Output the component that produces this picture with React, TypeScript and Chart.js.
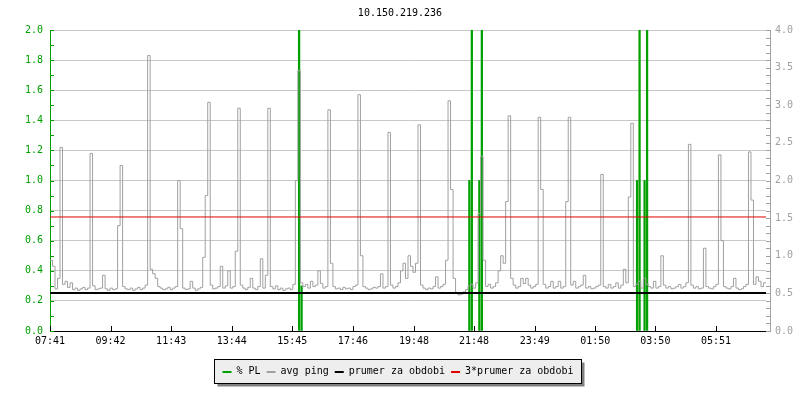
import { useEffect, useRef } from "react";
import { Chart, registerables } from "chart.js";

Chart.register(...registerables);

// ---------- data ----------
const TITLE = "10.150.219.236";
const START_TIME = "07:41";
const SAMPLE_MINUTES = 5;
const tickLabels = ["07:41", "09:42", "11:43", "13:44", "15:45", "17:46", "19:48", "21:48", "23:49", "01:50", "03:50", "05:51"];
const seriesLabels = ["% PL", "avg ping", "prumer za obdobi", "3*prumer za obdobi"];

// avg ping (ms, right axis), one value per 5-minute sample
const pingMs = [
  0.94, 0.86, 0.56, 0.70, 2.44, 0.62, 0.66, 0.58, 0.64, 0.55,
  0.57, 0.54, 0.56, 0.58, 0.55, 0.57, 2.36, 0.60, 0.55, 0.56,
  0.57, 0.74, 0.56, 0.54, 0.57, 0.55, 0.56, 1.40, 2.20, 0.59,
  0.56, 0.55, 0.57, 0.54, 0.56, 0.58, 0.55, 0.57, 0.61, 3.66,
  0.82, 0.76, 0.70, 0.59, 0.57, 0.55, 0.56, 0.58, 0.55, 0.57,
  0.59, 2.00, 1.36, 0.57, 0.55, 0.56, 0.66, 0.57, 0.54, 0.56,
  0.58, 0.98, 1.80, 3.04, 0.61, 0.56, 0.57, 0.59, 0.86, 0.57,
  0.60, 0.80, 0.57, 0.59, 1.06, 2.96, 0.61, 0.57, 0.55, 0.58,
  0.70, 0.57, 0.55, 0.59, 0.96, 0.57, 0.74, 2.96, 0.59, 0.56,
  0.60, 0.55, 0.57, 0.54, 0.56, 0.57, 0.55, 0.62, 2.00, 3.46,
  0.64, 0.59, 0.62, 0.57, 0.66, 0.59, 0.61, 0.80, 0.63, 0.57,
  0.59, 2.94, 0.90, 0.59, 0.56, 0.57, 0.55, 0.58, 0.56, 0.57,
  0.55, 0.59, 0.61, 3.14, 1.00, 0.59, 0.57, 0.55, 0.56, 0.58,
  0.57, 0.59, 0.76, 0.57, 0.59, 2.64, 0.61, 0.57, 0.59, 0.64,
  0.80, 0.90, 0.70, 1.00, 0.86, 0.78, 0.90, 2.74, 0.61, 0.57,
  0.55, 0.57, 0.56, 0.59, 0.72, 0.57, 0.59, 0.62, 0.94, 3.06,
  1.88, 0.70, 0.50, 0.48, 0.49, 0.52, 0.55, 0.60, 0.62, 0.57,
  0.64, 1.56, 2.32, 0.94, 0.59, 0.62, 0.57, 0.59, 0.64, 0.80,
  1.00, 0.90, 1.72, 2.86, 0.70, 0.61, 0.57, 0.59, 0.70, 0.63,
  0.70, 0.61, 0.57, 0.59, 0.62, 2.84, 1.88, 0.62, 0.57, 0.59,
  0.66, 0.57, 0.59, 0.66, 0.57, 0.59, 1.72, 2.84, 0.61, 0.66,
  0.57, 0.59, 0.61, 0.74, 0.57, 0.59, 0.56, 0.57, 0.59, 0.61,
  2.08, 0.59, 0.57, 0.62, 0.57, 0.59, 0.64, 0.57, 0.61, 0.82,
  0.64, 1.78, 2.76, 0.59, 0.62, 0.66, 0.57, 0.70, 0.62, 0.59,
  0.57, 0.66, 0.57, 0.59, 1.00, 0.61, 0.57, 0.59, 0.56, 0.57,
  0.59, 0.62, 0.57, 0.59, 0.64, 2.48, 0.61, 0.57, 0.59, 0.56,
  0.57, 1.10, 0.59, 0.57, 0.56, 0.59, 0.62, 2.34, 1.20, 0.59,
  0.57, 0.56, 0.59, 0.70, 0.57, 0.55, 0.56, 0.59, 0.62, 2.38,
  1.74, 0.62, 0.72, 0.66, 0.59, 0.64,
];

// packet loss (%, left axis) — non-zero samples only
const plSampleIndex = [99, 100, 167, 168, 171, 172, 234, 235, 237, 238];
const plPercent = [100, 0.3, 1.0, 100, 1.0, 100, 1.0, 100, 1.0, 100];

const avgPing = 0.505;
const tripleAvgPing = 1.515;

// ---------- style ----------
const GREEN = "#00a000";
const GRAY = "#a0a0a0";
const GRID = "#c8c8c8";
const RED = "#e00000";
const FONT = "'DejaVu Sans Mono', monospace";

const toMin = (t: string) => {
  const [h, m] = t.split(":").map(Number);
  return h * 60 + m;
};

const decorPlugin = {
  id: "decor",
  afterDraw(chart: any) {
    const ctx = chart.ctx as CanvasRenderingContext2D;
    const { left, right, top, bottom } = chart.chartArea;
    const y = chart.scales.y;
    const y2 = chart.scales.y2;
    const x = chart.scales.x;
    ctx.save();
    ctx.lineWidth = 1;

    // left minor ticks
    ctx.strokeStyle = GREEN;
    for (let i = 0; i <= 20; i++) {
      const py = Math.round(y.getPixelForValue(i * 0.1)) + 0.5;
      ctx.beginPath();
      ctx.moveTo(left, py);
      ctx.lineTo(left + 4, py);
      ctx.stroke();
    }

    // right axis line + ticks
    const rx = Math.round(right) + 4.5;
    ctx.strokeStyle = GRAY;
    ctx.beginPath();
    ctx.moveTo(rx, top);
    ctx.lineTo(rx, bottom + 1);
    ctx.stroke();
    for (let i = 0; i <= 40; i++) {
      const py = Math.round(y2.getPixelForValue(i * 0.1)) + 0.5;
      ctx.beginPath();
      ctx.moveTo(right, py);
      ctx.lineTo(rx, py);
      ctx.stroke();
    }

    // x ticks pointing inward
    ctx.strokeStyle = "#000";
    x.ticks.forEach((t: any) => {
      const px = Math.round(x.getPixelForValue(t.value)) + 0.5;
      ctx.beginPath();
      ctx.moveTo(px, bottom);
      ctx.lineTo(px, bottom - 5);
      ctx.stroke();
    });

    // legend
    ctx.font = `10px ${FONT}`;
    ctx.textBaseline = "middle";
    const ds = chart.data.datasets;
    const sample = 9, gapText = 5, gapItem = 6;
    let content = 0;
    ds.forEach((d: any, i: number) => {
      content += sample + gapText + ctx.measureText(d.label).width + (i < ds.length - 1 ? gapItem : 0);
    });
    const boxW = Math.round(content + 16);
    const boxH = 24;
    const bx = Math.round((chart.width - boxW) / 2) - 3 + 0.5;
    const by = 359.5;
    ctx.fillStyle = "#808080";
    ctx.fillRect(bx + 3, by + 3, boxW, boxH);
    ctx.fillStyle = "#eeeeee";
    ctx.fillRect(bx, by, boxW, boxH);
    ctx.strokeStyle = "#000";
    ctx.strokeRect(bx, by, boxW, boxH);
    let cx = bx + 8;
    const cy = by + boxH / 2;
    ds.forEach((d: any) => {
      const col = d.type === "bar" ? d.backgroundColor : d.borderColor;
      ctx.fillStyle = col;
      ctx.fillRect(cx, Math.round(cy) - 1, sample, 2);
      cx += sample + gapText;
      ctx.fillStyle = "#000";
      ctx.textAlign = "left";
      ctx.fillText(d.label, cx, cy);
      cx += ctx.measureText(d.label).width + gapItem;
    });
    ctx.restore();
  },
};

export default function App() {
  const ref = useRef<HTMLCanvasElement | null>(null);

  useEffect(() => {
    document.body.style.margin = "0";
    if (!ref.current) return;
    const startMin = toMin(START_TIME);
    const tickMinutes = tickLabels.map((l) => (toMin(l) - startMin + 1440) % 1440);
    const xMax = pingMs.length * SAMPLE_MINUTES;

    const pingPoints = pingMs.map((v, i) => ({ x: i * SAMPLE_MINUTES, y: v }));
    pingPoints.push({ x: xMax, y: pingMs[pingMs.length - 1] });
    const plPoints = plSampleIndex.map((k, i) => ({ x: k * SAMPLE_MINUTES + SAMPLE_MINUTES / 2, y: plPercent[i] }));

    Chart.defaults.font.family = FONT;
    Chart.defaults.font.size = 10;

    const chart = new Chart(ref.current, {
      type: "line",
      data: {
        datasets: [
          {
            type: "bar",
            label: seriesLabels[0],
            data: plPoints,
            yAxisID: "y",
            backgroundColor: GREEN,
            borderWidth: 0,
            barThickness: 1.6,
            grouped: false,
            order: 3,
          } as any,
          {
            type: "line",
            label: seriesLabels[1],
            data: pingPoints,
            yAxisID: "y2",
            borderColor: GRAY,
            backgroundColor: GRAY,
            borderWidth: 1,
            pointRadius: 0,
            stepped: true,
            order: 2,
          },
          {
            type: "line",
            label: seriesLabels[2],
            data: [{ x: 0, y: avgPing }, { x: xMax, y: avgPing }],
            yAxisID: "y2",
            borderColor: "#000000",
            backgroundColor: "#000000",
            borderWidth: 2,
            pointRadius: 0,
            order: 1,
          },
          {
            type: "line",
            label: seriesLabels[3],
            data: [{ x: 0, y: tripleAvgPing }, { x: xMax, y: tripleAvgPing }],
            yAxisID: "y2",
            borderColor: RED,
            backgroundColor: RED,
            borderWidth: 1,
            pointRadius: 0,
            order: 0,
          },
        ],
      },
      options: {
        responsive: false,
        animation: false,
        events: [],
        layout: { padding: 0 },
        plugins: {
          legend: { display: false },
          tooltip: { enabled: false },
          title: {
            display: true,
            text: TITLE,
            color: "#000",
            font: { family: FONT, size: 10, weight: "normal" },
            padding: { top: 7, bottom: 11 },
          },
        },
        scales: {
          x: {
            type: "linear",
            min: 0,
            max: xMax,
            offset: false,
            grid: { display: false, drawTicks: false, offset: false },
            border: { display: true, color: "#000", width: 1 },
            afterBuildTicks: (s: any) => {
              s.ticks = tickMinutes.map((v) => ({ value: v }));
            },
            afterFit: (s: any) => {
              s.height = 69;
            },
            ticks: {
              autoSkip: false,
              maxRotation: 0,
              padding: 4,
              color: "#000",
              font: { family: FONT, size: 10 },
              callback: (_v: any, i: number) => tickLabels[i],
            },
          },
          y: {
            type: "linear",
            position: "left",
            min: 0,
            max: 2,
            grid: { color: GRID, drawTicks: false, lineWidth: 1 },
            border: { display: true, color: GREEN, width: 1 },
            afterFit: (s: any) => {
              s.width = 50;
            },
            ticks: {
              stepSize: 0.2,
              padding: 7,
              color: GREEN,
              font: { family: FONT, size: 10 },
              callback: (v: any) => Number(v).toFixed(1),
            },
          },
          y2: {
            type: "linear",
            position: "right",
            min: 0,
            max: 4,
            grid: { display: false, drawTicks: false },
            border: { display: false },
            afterFit: (s: any) => {
              s.width = 34;
            },
            ticks: {
              stepSize: 0.5,
              padding: 9,
              color: GRAY,
              font: { family: FONT, size: 10 },
              callback: (v: any) => Number(v).toFixed(1),
            },
          },
        },
      },
      plugins: [decorPlugin],
    });
    return () => chart.destroy();
  }, []);

  return (
    <div style={{ width: 800, height: 400, background: "#fff" }}>
      <canvas ref={ref} width={800} height={400} />
    </div>
  );
}
